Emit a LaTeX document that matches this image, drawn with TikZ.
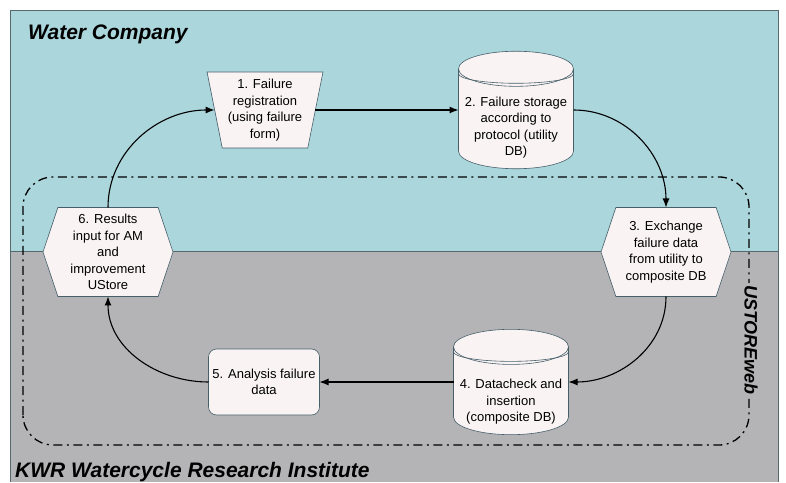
\documentclass[tikz,border=0pt]{standalone}
\usepackage{fontspec}
\setmainfont{Liberation Sans}
\usetikzlibrary{positioning, arrows.meta, calc, shapes.geometric, shapes.symbols}

\definecolor{waterblue}{RGB}{170,214,220}
\definecolor{kwrgray}{RGB}{180,180,182}
\definecolor{stepfill}{RGB}{250,243,244}
\definecolor{stepline}{RGB}{70,95,105}
\definecolor{frameline}{RGB}{85,105,110}

\begin{document}
\begin{tikzpicture}[
  x=1pt, y=1pt,
  box/.style     = {draw=stepline, fill=stepfill, line width=0.6pt, align=center,
                    font=\fontsize{13}{16.5}\selectfont, outer sep=0pt, inner sep=2pt},
  formbox/.style = {box, trapezium, shape border rotate=180, trapezium angle=78,
                    trapezium stretches=true, minimum width=116, minimum height=76},
  dbbox/.style   = {box, cylinder, shape border rotate=90, aspect=0.33,
                    inner ysep=0pt, minimum width=115, minimum height=95},
  hexbox/.style  = {box, signal, signal to=west and east, signal pointer angle=143,
                    minimum width=130, minimum height=89},
  roundbox/.style= {box, rounded corners=8pt, minimum width=111, minimum height=66},
  flow/.style    = {-{Latex[length=9pt, width=7pt]}, line width=1.1pt},
  title/.style   = {font=\fontsize{21}{25}\selectfont\bfseries\itshape, inner sep=0pt},
]
\useasboundingbox (0,0) rectangle (786,482);

% --- organisations -------------------------------------------------------
\fill[waterblue] (10,231) rectangle (778,472);
\fill[kwrgray]   (10,0)   rectangle (778,231);
\draw[frameline, line width=0.9pt] (10,0) -- (10,472) -- (778,472) -- (778,0);
\draw[frameline, line width=0.9pt] (10,231) -- (778,231);

\node[title, anchor=base west] (wc)  at (28,442) {Water Company};
\node[title, anchor=base west] (kwr) at (15,5)   {KWR Watercycle Research Institute};

% --- web tool frame ------------------------------------------------------
\draw[line width=1.3pt, dash pattern=on 9pt off 4.5pt on 2pt off 4.5pt,
      rounded corners=30pt] (23,37) rectangle (749,305);
\node[font=\fontsize{18}{20}\selectfont\bfseries\itshape, fill=kwrgray,
      rotate=-90, inner sep=2pt] (web) at (751,142) {USTOREweb};

% --- steps ---------------------------------------------------------------
\node[formbox] (reg) at (265,372) {1. Failure\\registration\\(using failure\\form)};
\node[dbbox, anchor=shape center, text height=69.15pt, text depth=-12.15pt]
     (udb) at (516,372) {2. Failure storage\\according to\\protocol (utility\\DB)};
\node[hexbox] (exch) at (666,230)
     {3. Exchange\\failure data\\from utility to\\composite DB};
\node[dbbox, anchor=shape center, text height=56.9pt, text depth=0.1pt]
     (cdb) at (511,100) {4. Datacheck and\\insertion\\(composite DB)};
\node[roundbox] (anl) at (264,100) {5. Analysis failure\\data};
\node[hexbox] (res) at (108,230)
     {6. Results\\input for AM\\and\\improvement\\UStore};

% second rim line on the databases
\draw[stepline, line width=0.6pt] ([yshift=-5pt]udb.before top)
     arc[start angle=180, end angle=360, x radius=57.5, y radius=9.5];
\draw[stepline, line width=0.6pt] ([yshift=-5pt]cdb.before top)
     arc[start angle=180, end angle=360, x radius=57.5, y radius=9.5];

% --- cycle ---------------------------------------------------------------
\draw[flow] (res.north) to[out=90, in=180] (reg.west);
\draw[flow] (reg.east) -- (reg.east -| udb.west);
\draw[flow] (udb.shape center -| udb.east) to[out=0, in=90] (exch.north);
\draw[flow] (exch.south) to[out=-90, in=0] (cdb.shape center -| cdb.east);
\draw[flow] (cdb.shape center -| cdb.west) -- (anl.east);
\draw[flow] (anl.west) to[out=180, in=-90] (res.south);

\end{tikzpicture}
\end{document}
